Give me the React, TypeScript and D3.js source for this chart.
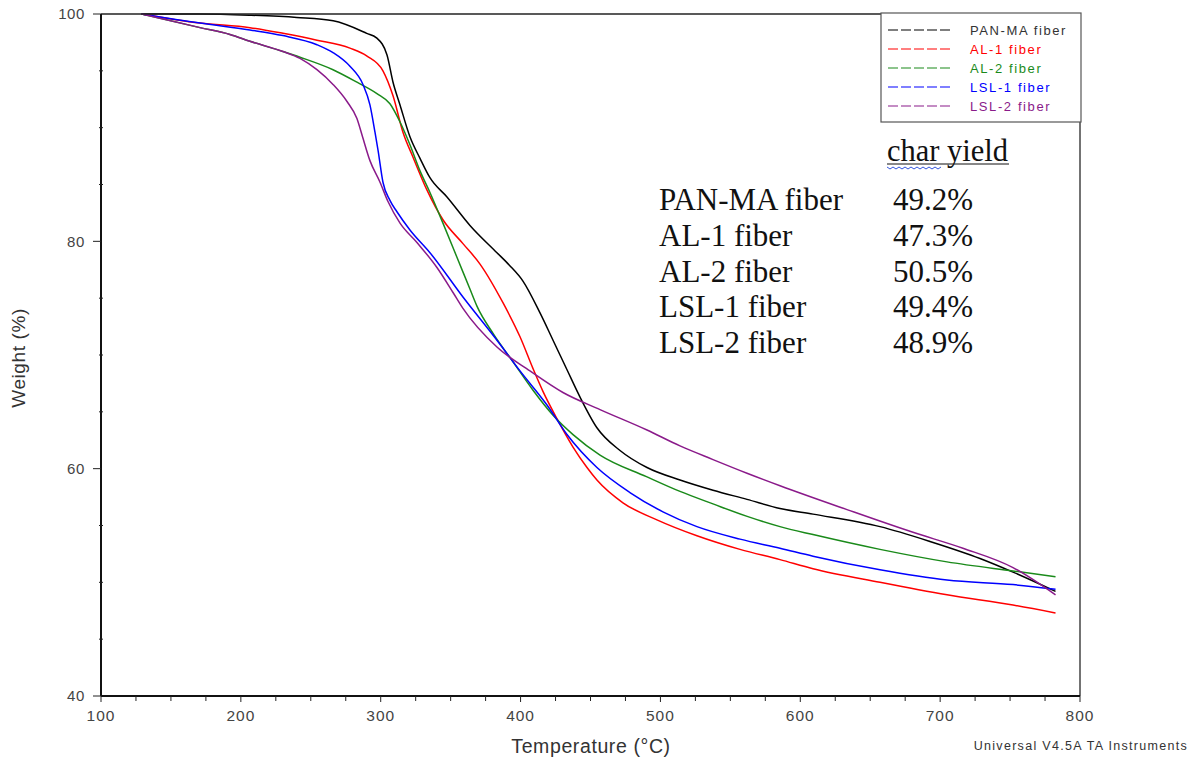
import React from "react";
import * as d3 from "d3";

const seriesNames = ["PAN-MA fiber", "AL-1 fiber", "AL-2 fiber", "LSL-1 fiber", "LSL-2 fiber"];
const seriesColors = ["#000000", "#ff0000", "#1a8a1a", "#0000ff", "#8a1a8a"];
const charYieldLabels = ["49.2%", "47.3%", "50.5%", "49.4%", "48.9%"];

const panMA: [number, number][] = [
  [129, 100], [170, 100], [206, 99.9], [240, 99.7], [266, 99.4], [290, 98.3], [297, 97.9], [304.5, 96.4],
  [308.8, 94.0], [313.8, 92.0], [320.9, 89.2], [328.1, 87.3], [335.2, 85.6], [347.4, 83.9], [363.8, 81.4],
  [383.1, 79.0], [392, 77.9], [401.7, 76.5], [413.9, 73.7], [423.2, 71.3], [433.2, 68.7], [442.5, 66.3], [454.6, 63.6],
  [471.1, 61.6], [490.4, 60.1], [514, 59.0], [537.6, 58.1], [561.9, 57.3], [585.5, 56.5], [609.1, 56.0],
  [657, 54.9], [692.7, 53.6], [728.5, 52.1], [752.1, 50.9], [782.5, 49.2],
];
const al1: [number, number][] = [
  [129, 100], [170.8, 99.2], [206.5, 98.8], [230.1, 98.3], [254.4, 97.7], [278, 97.0], [290.2, 96.3],
  [301.6, 95.0], [308.8, 92.8], [315.9, 89.6], [323.1, 87.4], [333.1, 84.5], [344.5, 81.9], [358.8, 79.8],
  [371, 78.0], [387.4, 74.6], [399.6, 71.6], [408.9, 68.8], [416, 66.8], [426, 64.4], [437.5, 61.9],
  [447.5, 60.1], [454.6, 59.0], [473.2, 57.0], [497.5, 55.5], [526.1, 54.1], [556.9, 52.9], [585.5, 52.0],
  [609.1, 51.2], [657, 50.0], [704.9, 48.9], [752.1, 48.0], [782.5, 47.3],
];
const al2: [number, number][] = [
  [129, 100], [170.8, 98.8], [192.2, 98.2], [206.5, 97.6], [230.1, 96.7], [242.3, 96.2], [265.9, 95.1],
  [283, 94.0], [297.3, 93.0], [306.6, 92.1], [313.8, 90.5], [320.9, 88.5], [328.1, 86.2], [335.2, 84.3],
  [344.5, 81.6], [354.5, 78.6], [363.8, 75.8], [368.8, 74.3], [380.3, 71.9], [394.6, 69.4], [408.9, 66.9],
  [423.2, 64.7], [437.5, 63.0], [456.8, 61.2], [490, 59.3], [514, 58.0], [537.6, 56.9], [562, 55.8],
  [585.5, 54.9], [609.1, 54.2], [657, 52.9], [704.9, 51.8], [752.1, 51.0], [782.5, 50.5],
];
const lsl1: [number, number][] = [
  [129, 100], [170.8, 99.2], [206.5, 98.6], [230.1, 98.1], [254.4, 97.3], [265.9, 96.6], [278, 95.4],
  [287.3, 93.8], [292.3, 92.0], [295.9, 89.6], [298.1, 88.0], [301.6, 85.2], [306.6, 83.6], [311.6, 82.6],
  [320.9, 81.0], [335.2, 79.0], [358.8, 75.1], [383.1, 71.3], [399.6, 68.6], [418.9, 65.6], [433.2, 63.0],
  [454.6, 60.1], [478.2, 57.9], [501.8, 56.2], [526.1, 54.9], [556.9, 53.8], [585.5, 53.0], [609.1, 52.3],
  [657, 51.1], [704.9, 50.2], [752.1, 49.8], [782.5, 49.4],
];
const lsl2: [number, number][] = [
  [129, 100], [170.8, 98.8], [192.2, 98.2], [206.5, 97.6], [230.1, 96.7], [242.3, 96.1], [254.4, 95.1],
  [265.9, 93.8], [275.9, 92.3], [283, 90.8], [287, 89.2], [292.3, 87.1], [299.5, 85.2], [305.2, 83.5],
  [313.8, 81.6], [325.9, 79.9], [340.2, 77.7], [351.7, 75.5], [358.8, 74.1], [383.1, 70.7], [406.7, 68.6],
  [430.3, 66.7], [456.8, 65.2], [490.4, 63.4], [514, 62.0], [537.6, 60.8], [561.9, 59.6], [585.5, 58.5],
  [633.4, 56.4], [680.6, 54.4], [716.3, 53.0], [752.1, 51.3], [782.5, 48.9],
];
const allSeries = [panMA, al1, al2, lsl1, lsl2];

const xMajorTicks = [100, 200, 300, 400, 500, 600, 700, 800];
const yMajorTicks = [40, 60, 80, 100];

const W = 1193;
const H = 761;
const left = 101;
const right = 1080;
const top = 14;
const bottom = 696;

export default function App() {
  const x = d3.scaleLinear().domain([100, 800]).range([left, right]);
  const y = d3.scaleLinear().domain([40, 100]).range([bottom, top]);
  const line = d3
    .line<[number, number]>()
    .x((d) => x(d[0]))
    .y((d) => y(d[1]))
    .curve(d3.curveMonotoneX);

  const xMinor = d3.range(100, 801, 25).filter((v) => v % 100 !== 0);
  const yMinor = d3.range(40, 101, 5).filter((v) => v % 20 !== 0);

  const sans = "Liberation Sans, Arial, sans-serif";
  const serif = "Liberation Serif, Times New Roman, serif";

  const rowBase = 210;
  const rowStep = 35.8;

  const wavyPts: string[] = [];
  for (let i = 0; i <= 18; i++) {
    const px = 887 + i * 3;
    const py = 167 + (i % 2 === 0 ? 0 : 2);
    wavyPts.push(`${px},${py}`);
  }

  return (
    <svg
      width={W}
      height={H}
      style={{ position: "absolute", left: 0, top: 0, background: "#fff" }}
      xmlns="http://www.w3.org/2000/svg"
    >
      <rect x={0} y={0} width={W} height={H} fill="#fff" />
      <g fill="none" strokeWidth={1.5} strokeLinejoin="round">
        {allSeries.map((s, i) => (
          <path key={i} d={line(s) || ""} stroke={seriesColors[i]} />
        ))}
      </g>
      <line x1={left} x2={right} y1={top} y2={top} stroke="#222" strokeWidth={1.5} />
      <line x1={right} x2={right} y1={top} y2={bottom} stroke="#444" strokeWidth={1.5} />
      <line x1={left} x2={left} y1={top} y2={bottom} stroke="#111" strokeWidth={2} />
      <line x1={left} x2={right} y1={bottom} y2={bottom} stroke="#111" strokeWidth={2} />
      {yMajorTicks.map((v) => (
        <g key={"ym" + v}>
          <line x1={left - 8} x2={left} y1={y(v)} y2={y(v)} stroke="#222" strokeWidth={1} />
          <text x={left - 16} y={y(v)} dy="0.36em" textAnchor="end" fontFamily={sans} fontSize={15} letterSpacing={0.6} fill="#444">
            {v}
          </text>
        </g>
      ))}
      {yMinor.map((v) => (
        <line key={"yn" + v} x1={left - 2} x2={left + 2} y1={y(v)} y2={y(v)} stroke="#222" strokeWidth={1} />
      ))}
      {xMajorTicks.map((v) => (
        <g key={"xm" + v}>
          <line x1={x(v)} x2={x(v)} y1={bottom} y2={bottom + 6} stroke="#222" strokeWidth={1} />
          <text x={x(v)} y={721} textAnchor="middle" fontFamily={sans} fontSize={15.5} letterSpacing={1} fill="#444">
            {v}
          </text>
        </g>
      ))}
      {xMinor.map((v) => (
        <line key={"xn" + v} x1={x(v)} x2={x(v)} y1={bottom} y2={bottom + 5} stroke="#222" strokeWidth={1} />
      ))}
      <text
        transform={`translate(25,358) rotate(-90)`}
        textAnchor="middle"
        fontFamily={sans}
        fontSize={19}
        letterSpacing={0.6}
        fill="#333"
      >
        Weight (%)
      </text>
      <text x={591} y={753} textAnchor="middle" fontFamily={sans} fontSize={19.5} letterSpacing={0.6} fill="#333">
        Temperature (°C)
      </text>
      <text x={1188} y={750} textAnchor="end" fontFamily={sans} fontSize={12.5} letterSpacing={1.3} fill="#333">
        Universal V4.5A TA Instruments
      </text>
      <rect x={881} y={13} width={200} height={109} fill="#fff" stroke="#555" strokeWidth={1.2} />
      {seriesNames.map((n, i) => {
        const ly = 30 + i * 19;
        return (
          <g key={"lg" + n}>
            <line x1={888} x2={952} y1={ly} y2={ly} stroke={seriesColors[i]} strokeWidth={1.2} strokeDasharray="10,3" />
            <text x={970} y={ly} dy="0.36em" fontFamily={sans} fontSize={13} letterSpacing={1.6} fill={i === 0 ? "#333" : seriesColors[i]}>
              {n}
            </text>
          </g>
        );
      })}
      <text x={887} y={161} fontFamily={serif} fontSize={30.5} fill="#111">
        char yield
      </text>
      <line x1={887} x2={1009} y1={164} y2={164} stroke="#111" strokeWidth={1.2} />
      <polyline points={wavyPts.join(" ")} fill="none" stroke="#3355dd" strokeWidth={1} />
      {seriesNames.map((n, i) => (
        <g key={"cy" + n}>
          <text x={659} y={rowBase + i * rowStep} fontFamily={serif} fontSize={31} fill="#111">
            {n}
          </text>
          <text x={893} y={rowBase + i * rowStep} fontFamily={serif} fontSize={31} fill="#111">
            {charYieldLabels[i]}
          </text>
        </g>
      ))}
    </svg>
  );
}
